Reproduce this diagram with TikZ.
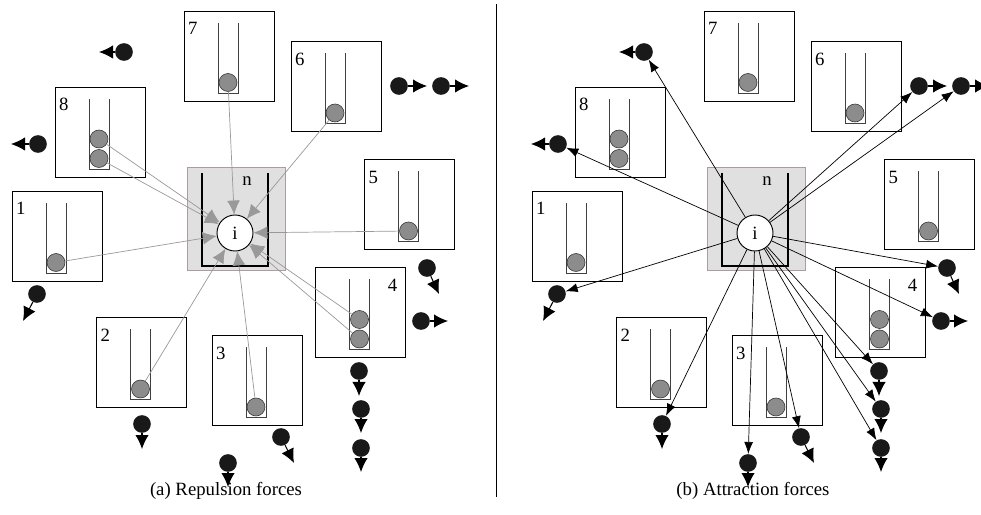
\documentclass[tikz,border=0pt]{standalone}
\usepackage{fontspec}
\setmainfont{Liberation Serif}
\usetikzlibrary{arrows.meta}

\begin{document}
\begin{tikzpicture}[x=0.03cm,y=-0.03cm,
   every node/.style={font=\fontsize{16}{19}\selectfont},
   cell/.style={draw,line width=0.8pt,minimum size=2.7cm,inner sep=0},
   ball/.style={circle,draw=black!80,fill=black!45,line width=0.5pt,minimum size=0.54cm,inner sep=0},
   dot/.style={circle,fill=black!90,minimum size=0.53cm,inner sep=0},
   tube/.style={draw=black!75,line width=0.6pt},
   well/.style={draw=black!30!red!10!gray!70,fill=black!12,line width=0.8pt,minimum width=2.94cm,minimum height=3.09cm,inner sep=0},
   wall/.style={line width=1.6pt},
   atom/.style={circle,draw,fill=white,line width=0.8pt,minimum size=1.08cm,inner sep=0},
   push/.style={>={Latex[length=4.2mm,width=4mm]},->,line width=0.9pt},
   repel/.style={>={Latex[length=4.2mm,width=3.8mm]},->,draw=black!40,line width=0.6pt},
   attract/.style={>={Latex[length=3.6mm,width=2.7mm]},->,line width=0.6pt}]
   \useasboundingbox (0,0) rectangle (981,515);

   % both panels share the same cells, well and particles
   \foreach \p/\dx in {a/0,b/520} {
   \begin{scope}[shift={(\dx,0)}]
     \node (\p-well) at (236,218.5) [well] {};
     \draw[wall] (202,173) -- (202,266) -- (268,266) -- (268,173);
     \node (\p-n) at (247,181) {n};
     \node (\p-i) at (235,233) [atom] {i};
     \foreach \k/\x/\y/\lx/\a in {1/57/236/-41/west, 2/141.5/362.5/-41/west,
         3/257/380.5/-41/west, 4/360.5/312.5/37/east, 5/409.5/204.5/-41/west,
         6/336/86.5/-41/west, 7/229/56/-41/west, 8/100/132/-41/west} {
       \node (\p-box\k) at (\x,\y) [cell] {};
       \node (\p-num\k) at (\x+\lx,\y-34) [anchor=north \a,inner sep=0] {\k};
       \draw[tube] (\x-11,\y-33) -- ++(0,70) -- ++(20,0) -- ++(0,-70);
       \node (\p-ball\k) at (\x-1,\y+26.5) [ball] {};
     }
     \node (\p-ball4b) at (359.5,319.5) [ball] {};
     \node (\p-ball8b) at (99,139) [ball] {};
     % free particles and the way they move
     \foreach \k/\x/\y/\u/\v in {1/124/52/-25/0, 2/38/144/-27/0, 3/37/294/-14/27,
         4/142/424/0/25, 5/228/463/0/24, 6/281/437/13/26, 7/399/86/28/0,
         8/441/86/28/0, 9/427/268/12/26, 10/421/321/27/0, 11/359/371/0/25,
         12/361/409/0/24, 13/361/448/0/24} {
       \node (\p-dot\k) at (\x,\y) [dot] {};
       \coordinate (\p-tip\k) at (\x+\u,\y+\v);
       \draw[push] (\p-dot\k) -- (\p-tip\k);
     }
   \end{scope}
   }

   % repulsion from the occupied cells
   \foreach \s in {1,2,3,4,4b,5,6,7,8,8b}
     \draw[repel] (a-ball\s) -- (a-i);
   % attraction towards the free particles
   \foreach \k in {1,...,13}
     \draw[attract] (b-i) -- (b-dot\k);

   \draw[line width=0.7pt] (496,4) -- (496,497);
   \node (capa) at (226,491) {(a) Repulsion forces};
   \node (capb) at (753,491) {(b) Attraction forces};
\end{tikzpicture}
\end{document}
